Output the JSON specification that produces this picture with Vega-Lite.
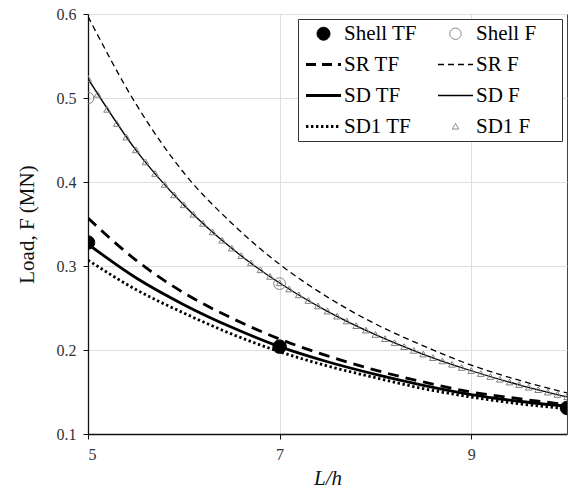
{
  "$schema": "https://vega.github.io/schema/vega-lite/v6.json",
  "width": 479,
  "height": 420,
  "autosize": {"type": "none"},
  "padding": {"left": 88, "top": 14, "right": 1, "bottom": 57},
  "background": "white",
  "config": {
    "font": "Liberation Serif",
    "view": {"stroke": "#444", "strokeWidth": 1},
    "axis": {
      "labelFont": "Liberation Serif", "titleFont": "Liberation Serif",
      "labelFontSize": 16, "titleFontSize": 21, "titleFontWeight": "normal",
      "labelColor": "#333", "titleColor": "#111",
      "domainColor": "#111", "domainWidth": 1.3, "tickColor": "#111", "tickSize": 5,
      "gridColor": "#dedede", "gridWidth": 1
    },
    "legend": {
      "titleOrient": "right", "titlePadding": 22, "titleFontSize": 1,
      "orient": "top-right", "offset": 5, "direction": "horizontal", "columns": 2, "gridAlign": "all",
      "columnPadding": 17, "rowPadding": 9, "padding": 4, "strokeColor": "#333", "fillColor": "white",
      "labelFont": "Liberation Serif", "labelFontSize": 21, "labelColor": "black", "labelOffset": 10, "labelLimit": 300,
      "symbolSize": 576, "symbolOffset": 11, "symbolOpacity": 1
    }
  },
  "datasets": {
    "pts": [
      {"series": "Shell TF", "x": 5, "y": 0.328}, {"series": "Shell TF", "x": 7, "y": 0.204}, {"series": "Shell TF", "x": 10, "y": 0.131},
      {"series": "Shell F", "x": 5, "y": 0.5}, {"series": "Shell F", "x": 7, "y": 0.279},
      {"series": "SD1 F", "x": 5.0, "y": 0.523}, {"series": "SD1 F", "x": 5.1, "y": 0.5041}, {"series": "SD1 F", "x": 5.2, "y": 0.4862}, {"series": "SD1 F", "x": 5.3, "y": 0.4693}, {"series": "SD1 F", "x": 5.4, "y": 0.4532},
      {"series": "SD1 F", "x": 5.5, "y": 0.438}, {"series": "SD1 F", "x": 5.6, "y": 0.4236}, {"series": "SD1 F", "x": 5.7, "y": 0.4099}, {"series": "SD1 F", "x": 5.8, "y": 0.3968}, {"series": "SD1 F", "x": 5.9, "y": 0.3844},
      {"series": "SD1 F", "x": 6.0, "y": 0.3726}, {"series": "SD1 F", "x": 6.1, "y": 0.3613}, {"series": "SD1 F", "x": 6.2, "y": 0.3505}, {"series": "SD1 F", "x": 6.3, "y": 0.3403}, {"series": "SD1 F", "x": 6.4, "y": 0.3304},
      {"series": "SD1 F", "x": 6.5, "y": 0.321}, {"series": "SD1 F", "x": 6.6, "y": 0.3121}, {"series": "SD1 F", "x": 6.7, "y": 0.3034}, {"series": "SD1 F", "x": 6.8, "y": 0.2952}, {"series": "SD1 F", "x": 6.9, "y": 0.2873},
      {"series": "SD1 F", "x": 7.0, "y": 0.2797}, {"series": "SD1 F", "x": 7.1, "y": 0.2724}, {"series": "SD1 F", "x": 7.2, "y": 0.2654}, {"series": "SD1 F", "x": 7.3, "y": 0.2587}, {"series": "SD1 F", "x": 7.4, "y": 0.2522},
      {"series": "SD1 F", "x": 7.5, "y": 0.246}, {"series": "SD1 F", "x": 7.6, "y": 0.24}, {"series": "SD1 F", "x": 7.7, "y": 0.2343}, {"series": "SD1 F", "x": 7.8, "y": 0.2287}, {"series": "SD1 F", "x": 7.9, "y": 0.2234},
      {"series": "SD1 F", "x": 8.0, "y": 0.2182}, {"series": "SD1 F", "x": 8.1, "y": 0.2132}, {"series": "SD1 F", "x": 8.2, "y": 0.2084}, {"series": "SD1 F", "x": 8.3, "y": 0.2037}, {"series": "SD1 F", "x": 8.4, "y": 0.1993},
      {"series": "SD1 F", "x": 8.5, "y": 0.1949}, {"series": "SD1 F", "x": 8.6, "y": 0.1907}, {"series": "SD1 F", "x": 8.7, "y": 0.1867}, {"series": "SD1 F", "x": 8.8, "y": 0.1827}, {"series": "SD1 F", "x": 8.9, "y": 0.1789},
      {"series": "SD1 F", "x": 9.0, "y": 0.1753}, {"series": "SD1 F", "x": 9.1, "y": 0.1717}, {"series": "SD1 F", "x": 9.2, "y": 0.1682}, {"series": "SD1 F", "x": 9.3, "y": 0.1649}, {"series": "SD1 F", "x": 9.4, "y": 0.1616},
      {"series": "SD1 F", "x": 9.5, "y": 0.1585}, {"series": "SD1 F", "x": 9.6, "y": 0.1554}, {"series": "SD1 F", "x": 9.7, "y": 0.1525}, {"series": "SD1 F", "x": 9.8, "y": 0.1496}, {"series": "SD1 F", "x": 9.9, "y": 0.1468},
      {"series": "SD1 F", "x": 10.0, "y": 0.1441}
    ],
    "lines": [
      {"series": "SR TF", "x": 5, "y": 0.357}, {"series": "SR TF", "x": 5.5, "y": 0.307}, {"series": "SR TF", "x": 6, "y": 0.268}, {"series": "SR TF", "x": 6.5, "y": 0.238}, {"series": "SR TF", "x": 7, "y": 0.213}, {"series": "SR TF", "x": 7.5, "y": 0.193}, {"series": "SR TF", "x": 8, "y": 0.176}, {"series": "SR TF", "x": 8.5, "y": 0.162}, {"series": "SR TF", "x": 9, "y": 0.15}, {"series": "SR TF", "x": 9.5, "y": 0.142}, {"series": "SR TF", "x": 10, "y": 0.135},
      {"series": "SR F", "x": 5, "y": 0.597}, {"series": "SR F", "x": 5.5, "y": 0.493}, {"series": "SR F", "x": 6, "y": 0.411}, {"series": "SR F", "x": 6.5, "y": 0.351}, {"series": "SR F", "x": 7, "y": 0.302}, {"series": "SR F", "x": 7.5, "y": 0.263}, {"series": "SR F", "x": 8, "y": 0.231}, {"series": "SR F", "x": 8.5, "y": 0.205}, {"series": "SR F", "x": 9, "y": 0.182}, {"series": "SR F", "x": 9.5, "y": 0.164}, {"series": "SR F", "x": 10, "y": 0.149},
      {"series": "SD TF", "x": 5, "y": 0.326}, {"series": "SD TF", "x": 5.5, "y": 0.286}, {"series": "SD TF", "x": 6, "y": 0.254}, {"series": "SD TF", "x": 6.5, "y": 0.227}, {"series": "SD TF", "x": 7, "y": 0.204}, {"series": "SD TF", "x": 7.5, "y": 0.186}, {"series": "SD TF", "x": 8, "y": 0.171}, {"series": "SD TF", "x": 8.5, "y": 0.158}, {"series": "SD TF", "x": 9, "y": 0.147}, {"series": "SD TF", "x": 9.5, "y": 0.139}, {"series": "SD TF", "x": 10, "y": 0.133},
      {"series": "SD F", "x": 5, "y": 0.523}, {"series": "SD F", "x": 5.5, "y": 0.438}, {"series": "SD F", "x": 6, "y": 0.3726}, {"series": "SD F", "x": 6.5, "y": 0.321}, {"series": "SD F", "x": 7, "y": 0.2797}, {"series": "SD F", "x": 7.5, "y": 0.246}, {"series": "SD F", "x": 8, "y": 0.2182}, {"series": "SD F", "x": 8.5, "y": 0.1949}, {"series": "SD F", "x": 9, "y": 0.1753}, {"series": "SD F", "x": 9.5, "y": 0.1585}, {"series": "SD F", "x": 10, "y": 0.1441},
      {"series": "SD1 TF", "x": 5, "y": 0.307}, {"series": "SD1 TF", "x": 5.5, "y": 0.272}, {"series": "SD1 TF", "x": 6, "y": 0.244}, {"series": "SD1 TF", "x": 6.5, "y": 0.219}, {"series": "SD1 TF", "x": 7, "y": 0.198}, {"series": "SD1 TF", "x": 7.5, "y": 0.181}, {"series": "SD1 TF", "x": 8, "y": 0.167}, {"series": "SD1 TF", "x": 8.5, "y": 0.154}, {"series": "SD1 TF", "x": 9, "y": 0.144}, {"series": "SD1 TF", "x": 9.5, "y": 0.136}, {"series": "SD1 TF", "x": 10, "y": 0.13}
    ]
  },
  "encoding": {
    "x": {"field": "x", "type": "quantitative",
      "scale": {"domain": [5, 10], "nice": false, "zero": false},
      "axis": {"values": [5, 7, 9], "title": "L/h", "titleFontStyle": "italic", "labelFont": "Liberation Serif", "titleFont": "Liberation Serif", "labelPadding": 7, "titlePadding": 5, "grid": true}},
    "y": {"field": "y", "type": "quantitative",
      "scale": {"domain": [0.1, 0.6], "nice": false, "zero": false},
      "axis": {"values": [0.1, 0.2, 0.3, 0.4, 0.5, 0.6], "format": ".1f", "title": "Load, F (MN)", "labelFont": "Liberation Serif", "titleFont": "Liberation Serif", "labelPadding": 7, "titlePadding": 19, "grid": true}}
  },
  "layer": [
    {"data": {"name": "lines"}, "transform": [{"filter": "datum.series == 'SR TF'"}],
     "mark": {"type": "line", "color": "black", "strokeWidth": 2.8, "strokeDash": [11, 7], "interpolate": "monotone", "clip": true}},
    {"data": {"name": "lines"}, "transform": [{"filter": "datum.series == 'SR F'"}],
     "mark": {"type": "line", "color": "black", "strokeWidth": 1.3, "strokeDash": [6, 4], "interpolate": "monotone", "clip": true}},
    {"data": {"name": "lines"}, "transform": [{"filter": "datum.series == 'SD TF'"}],
     "mark": {"type": "line", "color": "black", "strokeWidth": 2.8, "interpolate": "monotone", "clip": true}},
    {"data": {"name": "lines"}, "transform": [{"filter": "datum.series == 'SD F'"}],
     "mark": {"type": "line", "color": "black", "strokeWidth": 1.3, "interpolate": "monotone", "clip": true}},
    {"data": {"name": "lines"}, "transform": [{"filter": "datum.series == 'SD1 TF'"}],
     "mark": {"type": "line", "color": "black", "strokeWidth": 2.8, "strokeDash": [2.4, 2.6], "interpolate": "monotone", "clip": true}},
    {"data": {"name": "pts"},
     "mark": {"type": "point", "size": 620, "strokeWidth": 1, "opacity": 1, "clip": true},
     "encoding": {
       "shape": {"field": "series", "type": "nominal",
         "scale": {"domain": ["Shell TF", "Shell F", "SR TF", "SR F", "SD TF", "SD F", "SD1 TF", "SD1 F"],
           "range": [
             "M-0.54,0A0.54,0.54,0,1,0,0.54,0A0.54,0.54,0,1,0,-0.54,0Z",
             "M-0.47,0A0.47,0.47,0,1,0,0.47,0A0.47,0.47,0,1,0,-0.47,0Z",
             "M-1.46,0H1.46", "M-1.46,0H1.46", "M-1.46,0H1.46", "M-1.46,0H1.46", "M-1.46,0H1.46",
             "M0,-0.25L0.27,0.21L-0.27,0.21Z"]},
         "legend": {"title": "\u00a0",
           "symbolStrokeWidth": {"expr": "(datum.value == 'SR TF' || datum.value == 'SD TF' || datum.value == 'SD1 TF') ? 3 : ((datum.value == 'SR F' || datum.value == 'SD F') ? 1.3 : 1)"},
           "symbolDash": {"expr": "datum.value == 'SR TF' ? [10, 6] : (datum.value == 'SR F' ? [6, 4] : (datum.value == 'SD1 TF' ? [2.4, 2.6] : [1, 0]))"}}},
       "fill": {"field": "series", "type": "nominal",
         "scale": {"domain": ["Shell TF", "Shell F", "SR TF", "SR F", "SD TF", "SD F", "SD1 TF", "SD1 F"],
           "range": ["black", "transparent", "transparent", "transparent", "transparent", "transparent", "transparent", "transparent"]},
         "legend": {"title": "\u00a0",
           "symbolStrokeWidth": {"expr": "(datum.value == 'SR TF' || datum.value == 'SD TF' || datum.value == 'SD1 TF') ? 3 : ((datum.value == 'SR F' || datum.value == 'SD F') ? 1.3 : 1)"},
           "symbolDash": {"expr": "datum.value == 'SR TF' ? [10, 6] : (datum.value == 'SR F' ? [6, 4] : (datum.value == 'SD1 TF' ? [2.4, 2.6] : [1, 0]))"}}},
       "stroke": {"field": "series", "type": "nominal",
         "scale": {"domain": ["Shell TF", "Shell F", "SR TF", "SR F", "SD TF", "SD F", "SD1 TF", "SD1 F"],
           "range": ["black", "#808080", "black", "black", "black", "black", "black", "#808080"]},
         "legend": {"title": "\u00a0",
           "symbolStrokeWidth": {"expr": "(datum.value == 'SR TF' || datum.value == 'SD TF' || datum.value == 'SD1 TF') ? 3 : ((datum.value == 'SR F' || datum.value == 'SD F') ? 1.3 : 1)"},
           "symbolDash": {"expr": "datum.value == 'SR TF' ? [10, 6] : (datum.value == 'SR F' ? [6, 4] : (datum.value == 'SD1 TF' ? [2.4, 2.6] : [1, 0]))"}}}
     }}
  ]
}
